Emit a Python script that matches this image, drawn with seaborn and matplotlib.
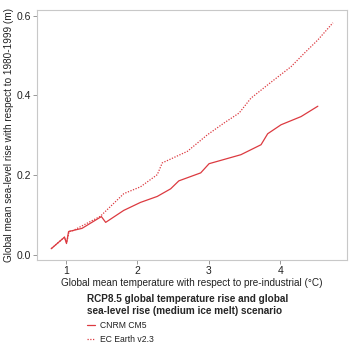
import pandas as pd
import matplotlib.pyplot as plt
import seaborn as sns

# values
cnrm_temp = [0.794, 0.98, 1.008, 1.037, 1.225, 1.496, 1.556, 1.809, 2.043, 2.278,
             2.465, 2.58, 2.886, 3.003, 3.448, 3.73, 3.823, 4.01, 4.29, 4.525]
cnrm_slr = [0.016, 0.045, 0.029, 0.059, 0.067, 0.0965, 0.082, 0.112, 0.132, 0.147,
            0.166, 0.186, 0.206, 0.229, 0.2515, 0.2765, 0.304, 0.3265, 0.347, 0.373]

ec_temp = [0.794, 0.98, 1.01, 1.046, 1.084, 1.48, 1.81, 2.043, 2.278, 2.348, 2.70,
           2.98, 3.213, 3.424, 3.588, 3.869, 4.15, 4.337, 4.525, 4.736]
ec_slr = [0.016, 0.045, 0.031, 0.06, 0.06, 0.097, 0.154, 0.171, 0.2015, 0.231, 0.26,
          0.3015, 0.331, 0.356, 0.393, 0.433, 0.472, 0.506, 0.539, 0.582]

models = ['CNRM CM5', 'EC Earth v2.3']

df = pd.concat([
    pd.DataFrame({'temp': cnrm_temp, 'slr': cnrm_slr, 'model': models[0]}),
    pd.DataFrame({'temp': ec_temp, 'slr': ec_slr, 'model': models[1]}),
])

sns.set_style('ticks')
plt.rcParams['font.family'] = ['Liberation Sans', 'DejaVu Sans']

red = '#dc3a40'
fig = plt.figure(figsize=(3.57, 3.57), dpi=100)
ax = fig.add_axes([0.104, 0.272, 0.868, 0.700])

sns.lineplot(data=df, x='temp', y='slr', hue='model', style='model',
             palette=[red, red], dashes=[(None, None), (1, 1.2)],
             sort=False, linewidth=0.9, ax=ax, legend=True)

ax.set_xlim(0.597, 4.933)
ax.set_ylim(-0.012, 0.614)
ax.set_xticks([1, 2, 3, 4])
ax.set_yticks([0.0, 0.2, 0.4, 0.6])
ax.set_yticklabels(['0.0', '0.2', '0.4', '0.6'])
ax.tick_params(labelsize=7.5, length=3, width=0.6, color='#888888', pad=1.5,
               labelcolor='#222222')
for s in ax.spines.values():
    s.set_visible(True)
    s.set_color('#c8c8c8')
    s.set_linewidth(0.8)

ax.set_xlabel('Global mean temperature with respect to pre-industrial (°C)',
              fontsize=7.2, color='#222222', labelpad=1)
ax.set_ylabel('Global mean sea-level rise with respect to 1980-1999 (m)',
              fontsize=7.2, color='#222222', labelpad=2)

handles, labels = ax.get_legend_handles_labels()
ax.get_legend().remove()
leg = fig.legend(handles, labels, loc='upper left', bbox_to_anchor=(0.243, 0.176),
                 frameon=False, fontsize=6.2, handlelength=1.0, handletextpad=0.5,
                 labelspacing=0.6, borderpad=0, borderaxespad=0,
                 title='RCP8.5 global temperature rise and global\n'
                       'sea-level rise (medium ice melt) scenario',
                 title_fontproperties={'weight': 'bold', 'size': 7.2})
leg._legend_box.align = 'left'
for t in leg.get_texts():
    t.set_color('#222222')

fig.savefig('out.png', dpi=100)
